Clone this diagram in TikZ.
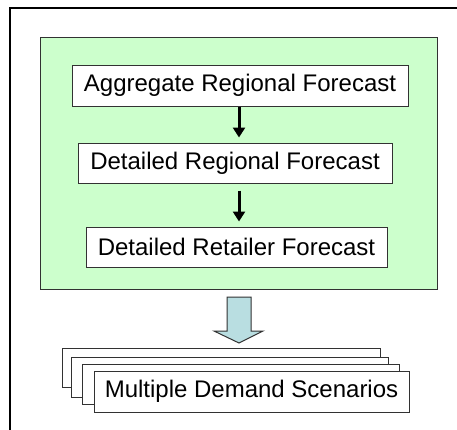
\documentclass[tikz,border=0pt]{standalone}
\usepackage{fontspec}
\setmainfont{Liberation Sans}
\usetikzlibrary{arrows.meta}
\definecolor{panelgreen}{RGB}{204,255,204}
\definecolor{blockblue}{RGB}{185,222,225}
\definecolor{edgegray}{RGB}{50,50,50}
\tikzset{
  x=1pt, y=-1pt,
  every node/.style={font=\fontsize{24}{28}\selectfont, inner sep=0pt},
  stepbox/.style={draw=edgegray, line width=1pt, fill=white, minimum height=40pt},
  flow/.style={line width=3pt, -{Triangle[width=12pt,length=10pt]}},
  sheet/.style={draw=edgegray, line width=1pt, fill=white}
}
\begin{document}
\begin{tikzpicture}
\useasboundingbox (0,0) rectangle (457,429);
\fill[white] (0,0) rectangle (457,429);
% page frame, only its top and left edges fall inside the picture
\begin{scope}
  \clip (0,0) rectangle (457,429);
  \draw[black, line width=1.2pt] (10,8) rectangle (470,440);
\end{scope}

% forecasting stage
\node[draw=edgegray, line width=1pt, fill=panelgreen, minimum width=397pt, minimum height=252pt] (panel) at (238.5,163) {};
\node[stepbox, minimum width=336pt, minimum height=41pt] (agg) at (240,85.5) {Aggregate Regional Forecast};
\node[stepbox, minimum width=314pt] (reg) at (235,163) {Detailed Regional Forecast};
\node[stepbox, minimum width=301pt] (ret) at (236.5,247) {Detailed Retailer Forecast};

\coordinate (ax) at (239,0);
\draw[flow, shorten >=5pt] (agg.south -| ax) -- (reg.north -| ax);
\draw[flow, shorten <=7pt, shorten >=5pt] (reg.south -| ax) -- (ret.north -| ax);

% block arrow into the scenarios
\draw[draw=edgegray, line width=1pt, fill=blockblue, line join=miter]
  (227,297) -- (251,297) -- (251,331) -- (263,331) -- (239,343)
  -- (214,331) -- (227,331) -- cycle;

% stacked scenario sheets
\draw[sheet] (62,348) rectangle (380,387);
\draw[sheet] (71,357) rectangle (388,397);
\draw[sheet] (82,364) rectangle (399,404);
\node[stepbox, minimum width=315pt, minimum height=41pt] (scen) at (251.5,391.5) {Multiple Demand Scenarios};
\end{tikzpicture}
\end{document}
